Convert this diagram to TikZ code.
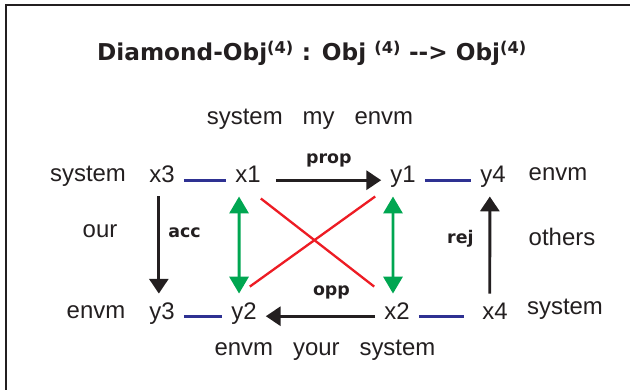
\documentclass[tikz,border=0pt]{standalone}
\usepackage{fontspec}
\setmainfont{Liberation Sans}
\newfontfamily\titlefont{DejaVu Sans}
\definecolor{DiaBlue}{HTML}{2E3192}
\definecolor{DiaRed}{HTML}{ED1C24}
\definecolor{DiaGreen}{HTML}{00A651}
\definecolor{DiaInk}{HTML}{231F20}
\usetikzlibrary{arrows.meta}
\newcommand{\ofour}{\textsuperscript{(4)}}

\begin{document}
\begin{tikzpicture}[x=0.3333mm,y=-0.3333mm,
  word/.style={anchor=base,inner sep=0pt,text=DiaInk,font=\fontsize{22.7}{27}\selectfont},
  obj/.style={word,inner xsep=8.5pt,inner ysep=7.6pt,text height=16.3pt,text depth=5pt},
  lbl/.style={inner sep=0pt,text=DiaInk,font=\titlefont\bfseries\fontsize{16.5}{20}\selectfont},
  blueline/.style={DiaBlue,line width=2.6pt},
  morph/.style={DiaInk,line width=2.8pt,-{Triangle[length=14pt,width=18pt]}},
  swap/.style={DiaGreen,line width=2.8pt,{Triangle[length=16pt,width=18pt]}-{Triangle[length=16pt,width=18pt]}},
  cross/.style={DiaRed,line width=2.2pt}]
  \useasboundingbox (0,0) rectangle (630,390);
  \draw[DiaInk,line width=1.9pt] (6,390) -- (6,5) -- (630,5);
  \node[anchor=base,text=DiaInk,font=\titlefont\bfseries\fontsize{22}{26}\selectfont] (title) at (312,61)
    {Diamond-Obj\ofour{} : Obj \ofour{} -{}-> Obj\ofour};
  % upper row
  \node[word] (mine) at (310,125) {system~~~my~~~envm};
  \node[word] (sysA) at (88,181) {system};
  \node[obj] (x3) at (162,183) {x3};
  \node[obj] (x1) at (248,183) {x1};
  \node[obj] (y1) at (403,183) {y1};
  \node[obj] (y4) at (493,183) {y4};
  \node[word] (envA) at (558,180) {envm};
  \node[word] (our) at (100,238) {our};
  \node[word] (others) at (562,245) {others};
  % lower row
  \node[word] (envB) at (96,318) {envm};
  \node[obj] (y3) at (162,319) {y3};
  \node[obj] (y2) at (244,319) {y2};
  \node[obj] (x2) at (397,319) {x2};
  \node[obj] (x4) at (495,319) {x4};
  \node[word] (sysB) at (565,314) {system};
  \node[word] (yours) at (325,355) {envm~~~your~~~system};
  % connectors
  \draw[cross] ([shift={(-9,2)}]x1.south east) -- ([shift={(-1,-7)}]x2.north west);
  \draw[cross] ([shift={(-6,0)}]y1.south west) -- ([shift={(-16,-7)}]y2.north east);
  \draw[blueline] (x3.mid east) -- (x1.mid west);
  \draw[blueline] (y1.mid east) -- (y4.mid west);
  \draw[blueline] (y3.mid east) -- (y2.mid west);
  \draw[blueline,shorten >=3mm] (x2.mid east) -- (x4.mid west);
  \draw[morph,shorten <=2mm] (x1.mid east) -- node[lbl,pos=.53,above=11pt] (prop) {prop} (y1.mid west);
  \draw[morph] (x2.mid west) -- node[lbl,pos=.4,above=15pt] (opp) {opp} (y2.mid east);
  \draw[morph] ([xshift=-3pt]x3.south) -- node[lbl,pos=.37,right=7.6pt] (acc) {acc} ([xshift=-3pt]y3.north);
  \draw[morph] ([xshift=-5pt]x4.north) -- node[lbl,pos=.56,left=14pt] (rej) {rej} ([xshift=-3pt]y4.south);
  \draw[swap] ([xshift=-8.5pt]x1.south) -- ([xshift=-4.7pt]y2.north);
  \draw[swap] ([xshift=-9.5pt]y1.south) -- ([xshift=-3.8pt]x2.north);
\end{tikzpicture}
\end{document}
